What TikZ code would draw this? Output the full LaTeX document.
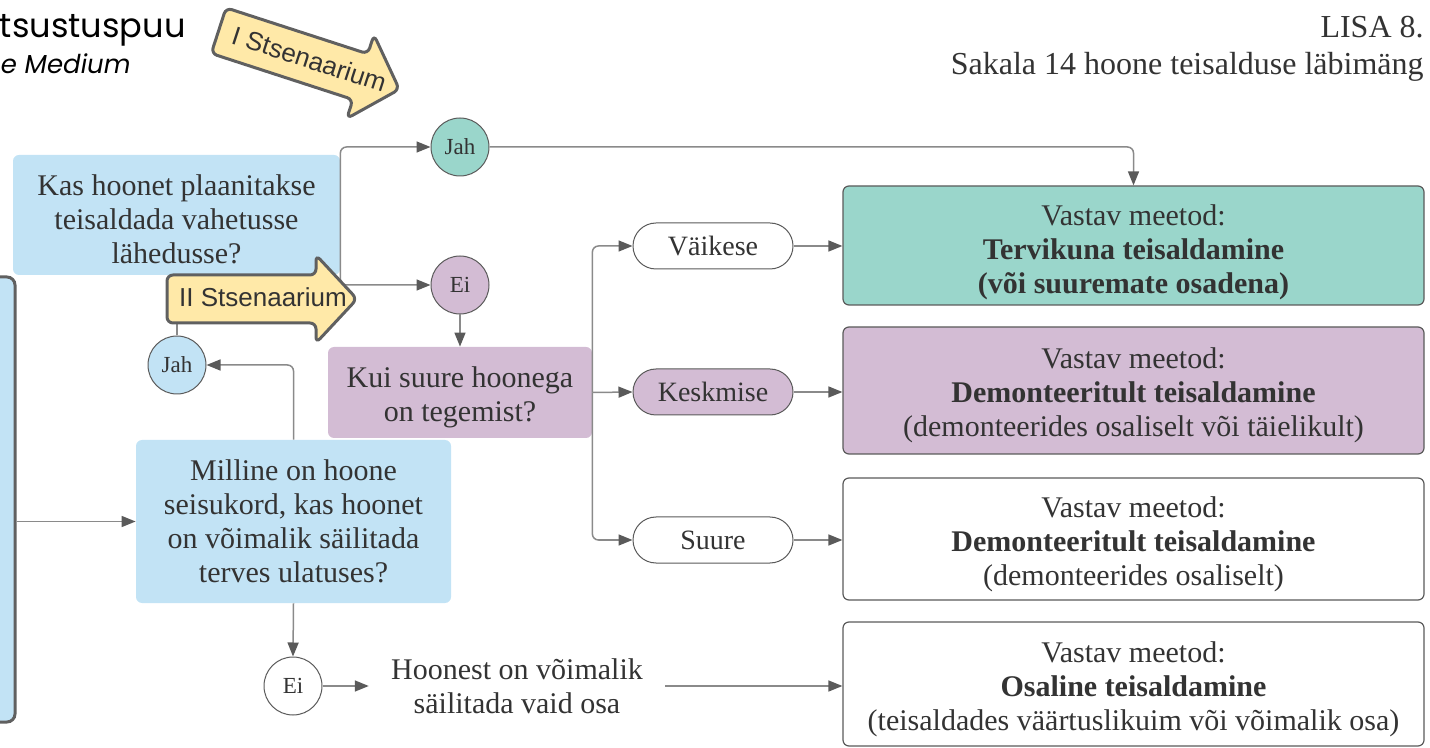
\documentclass[tikz,border=0pt]{standalone}
\usepackage{fontspec}
\setmainfont{Liberation Serif}
\newfontfamily\arrowfont{Liberation Sans}
\newfontfamily\titlefont{Poppins}
\usetikzlibrary{arrows.meta}

\definecolor{qblue}{HTML}{C2E3F5}
\definecolor{tealc}{HTML}{9AD6CB}
\definecolor{purp}{HTML}{D3BCD4}
\definecolor{yel}{HTML}{FFE9A8}
\definecolor{dgray}{HTML}{606060}
\definecolor{cgray}{HTML}{5A5A5A}
\definecolor{lgray}{HTML}{8A8A8A}
\definecolor{txt}{HTML}{333333}

\newcommand{\bodyfont}{\fontsize{15}{17}\selectfont}
\newcommand{\lift}[1]{\rule{0pt}{#1}}

\begin{document}
\begin{tikzpicture}[x=0.5pt, y=-0.5pt,
  question/.style={fill=qblue, rounded corners=3pt, align=center, text=txt, font=\bodyfont, inner sep=0pt},
  method/.style={draw=cgray, line width=0.6pt, rounded corners=3pt, minimum width=290.5pt,
    align=center, text=txt, font=\bodyfont, inner sep=0pt},
  dot/.style={circle, draw=cgray, line width=0.5pt, minimum size=29pt, inner sep=0pt,
    text=txt, font=\fontsize{11.5}{13}\selectfont},
  pill/.style={draw=cgray, line width=0.5pt, rounded corners=11.5pt, minimum width=80pt,
    minimum height=23pt, inner sep=0pt, text=txt, font=\fontsize{14}{16}\selectfont},
  conn/.style={draw=lgray, line width=0.75pt, rounded corners=3pt,
    arrows={-Triangle[length=7pt, width=5.5pt, color=cgray]}},
  scen/.style={fill=yel, draw=dgray, line width=1.5pt, rounded corners=3pt},
  scentext/.style={text=txt, font=\arrowfont\fontsize{13}{15}\selectfont}]

\useasboundingbox (0,0) rectangle (1430,748);

% titles
\node[anchor=base east, inner sep=0pt, font=\titlefont\fontsize{16.8}{19}\selectfont] at (186,38) (title) {tsustuspuu};
\node[anchor=base east, inner sep=0pt, font=\titlefont\itshape\fontsize{13}{15}\selectfont] at (131,74) (subtitle) {e Medium};
\node[anchor=base east, inner sep=0pt, text=txt, font=\fontsize{16}{18}\selectfont] at (1424,38) (lisa) {LISA 8.};
\node[anchor=base east, inner sep=0pt, text=txt, font=\fontsize{16}{18}\selectfont] at (1424,75) (lisasub) {Sakala 14 hoone teisalduse läbimäng};

% questions
\node[fill=qblue, draw=dgray, line width=1.5pt, rounded corners=4pt, minimum width=22.5pt, minimum height=222.5pt] at (-7.5,499.5) (start) {};
\node[question, minimum width=163.5pt, minimum height=60pt] at (176.5,215) (q1) {\lift{14.5pt}Kas hoonet plaanitakse\\teisaldada vahetusse\\lähedusse?};
\node[question, minimum width=157.5pt, minimum height=81.5pt] at (293.5,521.5) (q2) {Milline on hoone\\seisukord, kas hoonet\\on võimalik säilitada\\terves ulatuses?};
\node[question, fill=purp, minimum width=132pt, minimum height=45.5pt] at (460,392.5) (size) {\lift{15pt}Kui suure hoonega\\on tegemist?};

% yes / no
\node[dot, fill=qblue] at (177,365) (jah1) {Jah};
\node[dot, fill=white] at (293,686) (ei1) {Ei};
\node[dot, fill=tealc] at (460,147) (jah2) {Jah};
\node[dot, fill=purp] at (460,285) (ei2) {Ei};

% sizes
\node[pill, fill=white] at (713,246) (small) {Väikese};
\node[pill, fill=purp] at (713,392) (medium) {Keskmise};
\node[pill, fill=white] at (713,540) (large) {Suure};
\node[align=center, text=txt, font=\bodyfont, inner xsep=11pt] at (517,686) (partial) {Hoonest on võimalik\\säilitada vaid osa};

% methods
\node[method, fill=tealc, minimum height=59.5pt] at (1133.5,245.5) (mWhole) {\lift{17pt}Vastav meetod:\\\textbf{Tervikuna teisaldamine}\\\textbf{(või suuremate osadena)}};
\node[method, fill=purp, minimum height=63.5pt] at (1133.5,390.5) (mDemo) {\lift{15pt}Vastav meetod:\\\textbf{Demonteeritult teisaldamine}\\(demonteerides osaliselt või täielikult)};
\node[method, fill=white, minimum height=61pt] at (1133.5,539) (mDemoPart) {\lift{16pt}Vastav meetod:\\\textbf{Demonteeritult teisaldamine}\\(demonteerides osaliselt)};
\node[method, fill=white, minimum height=62pt] at (1133.5,684) (mPart) {\lift{16pt}Vastav meetod:\\\textbf{Osaline teisaldamine}\\(teisaldades väärtuslikuim või võimalik osa)};

% condition of the building
\draw[conn] (start.east |- q2.west) -- (q2.west);
\draw[conn] (q2.north) |- (jah1.east);
\draw[conn] (jah1.north) -- (jah1.north |- q1.south);
\draw[conn] (q2.south) -- (ei1.north);
\draw[conn] (ei1.east) -- (partial.west);
\draw[conn] (partial.east) -- (partial.east -| mPart.west);

% moving nearby or not
\draw[conn] (q1.east) |- (jah2.west);
\draw[conn] (q1.east) |- (ei2.west);
\draw[conn] (jah2.east) -| (mWhole.north);
\draw[conn] (ei2.south) -- (size.north);

% size of the building
\draw[conn] (size.east) |- (small.west);
\draw[conn] (size.east) -- (medium.west);
\draw[conn] (size.east) |- (large.west);
\draw[conn] (small.east) -- (small.east -| mWhole.west);
\draw[conn] (medium.east) -- (medium.east -| mDemo.west);
\draw[conn] (large.east) -- (large.east -| mDemoPart.west);

% scenario arrows
\begin{scope}[shift={(309,60)}, rotate=-18]
  \draw[scen] (-95,-24) -- (54,-24) -- (54,-44) -- (95,0) -- (54,44) -- (54,24) -- (-95,24) -- cycle;
  \node[scentext, transform shape] at (0,-1) (scen1) {I Stsenaarium};
\end{scope}
\begin{scope}[shift={(262,299)}]
  \draw[scen] (-95,-24) -- (54,-24) -- (54,-44) -- (95,0) -- (54,44) -- (54,24) -- (-95,24) -- cycle;
  \node[scentext] at (1,-2) (scen2) {II Stsenaarium};
\end{scope}

\end{tikzpicture}
\end{document}
